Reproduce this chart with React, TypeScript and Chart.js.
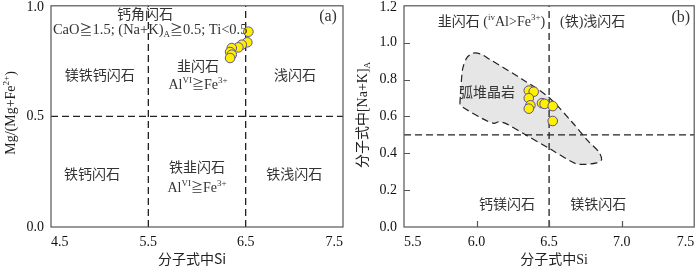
import React, { useEffect, useRef } from "react";
import { Chart, registerables } from "chart.js";

Chart.register(...registerables);

const SERIF = '"Liberation Serif", "Times New Roman", serif';
const CJK = '"Noto Sans CJK SC", "Noto Sans CJK JP", sans-serif';

// ---------- Panel (a) data ----------
const aSi = [6.528, 6.517, 6.46, 6.425, 6.357, 6.34, 6.357, 6.34];
const aMgRatio = [0.883, 0.835, 0.824, 0.812, 0.809, 0.791, 0.779, 0.764];
const aXTicks = [4.5, 5.5, 6.5, 7.5];
const aYTicks = [0, 0.5, 1.0];
const aVLines = [5.5, 6.5];
const aHLines = [0.5];

// ---------- Panel (b) data ----------
const bSi = [6.36, 6.394, 6.36, 6.371, 6.36, 6.451, 6.469, 6.525, 6.525];
const bNaK = [0.74, 0.734, 0.699, 0.66, 0.642, 0.672, 0.668, 0.656, 0.575];
const bFieldSi = [5.885, 5.892, 5.905, 5.935, 5.975, 6.03, 6.086, 6.314, 6.497, 6.656, 6.771, 6.839, 6.862, 6.827, 6.748, 6.679, 6.497, 6.337, 6.2, 6.154, 6.12, 6.04, 5.903];
const bFieldNaK = [0.668, 0.75, 0.86, 0.92, 0.943, 0.938, 0.912, 0.802, 0.704, 0.571, 0.464, 0.411, 0.366, 0.348, 0.34, 0.345, 0.428, 0.5, 0.562, 0.571, 0.562, 0.588, 0.651];
const bXTicks = [5.5, 6.0, 6.5, 7.0, 7.5];
const bYTicks = [0, 0.2, 0.4, 0.6, 0.8, 1.0, 1.2];
const bVLines = [6.5];
const bHLines = [0.5];

type Seg = { t: string; cjk?: boolean; size?: number; dy?: number };
type Note = { x: number; y: number; segs: Seg[]; left?: boolean };

const SUP = { size: 9, dy: -6 };
const SUB = { size: 9, dy: 3 };
const GEQ: Seg = { t: "≧", cjk: true, size: 12 };
const GEQ2: Seg = { t: "≧", cjk: true, size: 13 };
const alFe: Seg[] = [{ t: "Al" }, { t: "VI", ...SUP }, GEQ, { t: "Fe" }, { t: "3+", ...SUP }];

const aNotes: Note[] = [
  { x: 5.466, y: 0.964, segs: [{ t: "钙角闪石", cjk: true }] },
  {
    x: 4.52,
    y: 0.897,
    left: true,
    segs: [{ t: "CaO", size: 14.5 }, GEQ2, { t: "1.5; (Na+K)", size: 14.5 }, { t: "A", ...SUB }, GEQ2, { t: "0.5; Ti<0.5", size: 14.5 }],
  },
  { x: 7.346, y: 0.955, segs: [{ t: "(a)", size: 16 }] },
  { x: 5.0, y: 0.686, segs: [{ t: "镁铁钙闪石", cjk: true }] },
  { x: 6.01, y: 0.728, segs: [{ t: "韭闪石", cjk: true }] },
  { x: 6.01, y: 0.646, segs: alFe },
  { x: 7.007, y: 0.686, segs: [{ t: "浅闪石", cjk: true }] },
  { x: 4.92, y: 0.238, segs: [{ t: "铁钙闪石", cjk: true }] },
  { x: 6.0, y: 0.271, segs: [{ t: "铁韭闪石", cjk: true }] },
  { x: 6.0, y: 0.179, segs: alFe },
  { x: 7.0, y: 0.238, segs: [{ t: "铁浅闪石", cjk: true }] },
];

const bNotes: Note[] = [
  { x: 6.103, y: 1.12, segs: [{ t: "韭闪石", cjk: true }, { t: " (" }, { t: "iv", ...SUP }, { t: "Al>Fe" }, { t: "3+", ...SUP }, { t: ")" }] },
  { x: 6.8, y: 1.12, segs: [{ t: "(" }, { t: "铁", cjk: true }, { t: ")" }, { t: "浅闪石", cjk: true }] },
  { x: 7.408, y: 1.141, segs: [{ t: "(b)", size: 16 }] },
  { x: 6.072, y: 0.731, segs: [{ t: "弧堆晶岩", cjk: true }] },
  { x: 6.209, y: 0.123, segs: [{ t: "钙镁闪石", cjk: true }] },
  { x: 6.839, y: 0.123, segs: [{ t: "镁铁闪石", cjk: true }] },
];

function segFont(g: Seg) {
  return `${g.size ?? 14}px ${g.cjk ? CJK : SERIF}`;
}

function drawRich(ctx: CanvasRenderingContext2D, segs: Seg[], cx: number, cy: number, color: string, left = false) {
  let w = 0;
  for (const g of segs) {
    ctx.font = segFont(g);
    w += ctx.measureText(g.t).width;
  }
  let x = left ? cx : cx - w / 2;
  ctx.textAlign = "left";
  ctx.textBaseline = "alphabetic";
  ctx.fillStyle = color;
  for (const g of segs) {
    ctx.font = segFont(g);
    ctx.fillText(g.t, x, cy + 5 + (g.dy ?? 0));
    x += ctx.measureText(g.t).width;
  }
}

type PanelCfg = {
  xs: number[];
  ys: number[];
  xTicks: number[];
  yTicks: number[];
  vLines: number[];
  hLines: number[];
  field?: { xs: number[]; ys: number[] };
  notes: Note[];
  innerTicks: boolean;
  yAxisWidth: number;
  padRight: number;
  padTop: number;
  xTitle: Seg[];
  xTitleX: number;
  yTitle: Seg[];
  yTitleX: number;
  yTitleY: number;
};

function makeDeco(cfg: PanelCfg) {
  return {
    id: "deco",
    afterDatasetsDraw(chart: any) {
      const ctx: CanvasRenderingContext2D = chart.ctx;
      const a = chart.chartArea;
      const xs = chart.scales.x;
      const ys = chart.scales.y;
      ctx.save();
      ctx.setLineDash([]);
      ctx.strokeStyle = "#555";
      ctx.lineWidth = 1.2;
      ctx.strokeRect(a.left, a.top, a.right - a.left, a.bottom - a.top);
      if (cfg.innerTicks) {
        ctx.beginPath();
        for (const v of cfg.xTicks.slice(1, -1)) {
          const px = Math.round(xs.getPixelForValue(v)) + 0.5;
          ctx.moveTo(px, a.bottom);
          ctx.lineTo(px, a.bottom - 6);
        }
        for (const v of cfg.yTicks.slice(1, -1)) {
          const py = Math.round(ys.getPixelForValue(v)) + 0.5;
          ctx.moveTo(a.left, py);
          ctx.lineTo(a.left + 6, py);
        }
        ctx.stroke();
      }
      // top y tick label kept inside the canvas
      const top = cfg.yTicks[cfg.yTicks.length - 1];
      ctx.font = `14px ${SERIF}`;
      ctx.fillStyle = "#111";
      ctx.textAlign = "right";
      ctx.textBaseline = "middle";
      ctx.fillText(top.toFixed(1), a.left - 7, Math.max(ys.getPixelForValue(top), 7));
      for (const n of cfg.notes) {
        drawRich(ctx, n.segs, xs.getPixelForValue(n.x), ys.getPixelForValue(n.y), "#333", !!n.left);
      }
      drawRich(ctx, cfg.xTitle, cfg.xTitleX, 259, "#222");
      ctx.translate(cfg.yTitleX, cfg.yTitleY);
      ctx.rotate(-Math.PI / 2);
      drawRich(ctx, cfg.yTitle, 0, 0, "#222");
      ctx.restore();
    },
  };
}

function Panel({ cfg }: { cfg: PanelCfg }) {
  const ref = useRef<HTMLCanvasElement>(null);
  useEffect(() => {
    if (!ref.current) return;
    const xMin = cfg.xTicks[0];
    const xMax = cfg.xTicks[cfg.xTicks.length - 1];
    const yMin = cfg.yTicks[0];
    const yMax = cfg.yTicks[cfg.yTicks.length - 1];
    const dash = { showLine: true, pointRadius: 0, borderColor: "#222", borderWidth: 1.3, borderDash: [7, 4], fill: false };
    const datasets: any[] = [
      {
        data: cfg.xs.map((x, i) => ({ x, y: cfg.ys[i] })),
        showLine: false,
        pointRadius: 4.8,
        pointBackgroundColor: "#FFF000",
        pointBorderColor: "#5A4FA0",
        pointBorderWidth: 1,
      },
      ...cfg.vLines.map((v) => ({ ...dash, data: [{ x: v, y: yMin }, { x: v, y: yMax }] })),
      ...cfg.hLines.map((v) => ({ ...dash, data: [{ x: xMin, y: v }, { x: xMax, y: v }] })),
    ];
    if (cfg.field) {
      const pts = cfg.field.xs.map((x, i) => ({ x, y: cfg.field!.ys[i] }));
      pts.push(pts[0]);
      datasets.push({
        data: pts,
        showLine: true,
        pointRadius: 0,
        borderColor: "#222",
        borderWidth: 1.2,
        borderDash: [7, 4],
        backgroundColor: "#e6e6e6",
        fill: "shape",
        tension: 0.3,
      });
    }
    const tickFont = { family: SERIF, size: 14 };
    const chart = new Chart(ref.current, {
      type: "scatter",
      data: { datasets },
      plugins: [makeDeco(cfg) as any],
      options: {
        animation: false,
        responsive: false,
        events: [],
        layout: { padding: { left: 0, right: cfg.padRight, top: cfg.padTop, bottom: 0 } },
        plugins: { legend: { display: false }, tooltip: { enabled: false } },
        scales: {
          x: {
            type: "linear",
            min: xMin,
            max: xMax,
            afterBuildTicks: (sc: any) => {
              sc.ticks = cfg.xTicks.map((v) => ({ value: v }));
            },
            afterFit: (sc: any) => {
              sc.height = 41;
              sc.paddingLeft = 0;
              sc.paddingRight = 0;
            },
            grid: { display: false, drawTicks: false },
            border: { display: false },
            ticks: {
              font: tickFont,
              color: "#111",
              padding: 7,
              align: "inner",
              maxRotation: 0,
              autoSkip: false,
              callback: (v: any) => Number(v).toFixed(1),
            },
          },
          y: {
            type: "linear",
            min: yMin,
            max: yMax,
            afterBuildTicks: (sc: any) => {
              sc.ticks = cfg.yTicks.map((v) => ({ value: v }));
            },
            afterFit: (sc: any) => {
              sc.width = cfg.yAxisWidth;
              sc.paddingTop = 0;
              sc.paddingBottom = 0;
            },
            grid: { display: false, drawTicks: false },
            border: { display: false },
            ticks: {
              font: tickFont,
              color: "#111",
              padding: 7,
              autoSkip: false,
              callback: (v: any) => (Number(v) === yMax ? "" : Number(v).toFixed(1)),
            },
          },
        },
      } as any,
    });
    return () => chart.destroy();
  }, []);
  return <canvas ref={ref} width={350} height={268} style={{ display: "block", width: 350, height: 268 }} />;
}

const panelA: PanelCfg = {
  xs: aSi,
  ys: aMgRatio,
  xTicks: aXTicks,
  yTicks: aYTicks,
  vLines: aVLines,
  hLines: aHLines,
  notes: aNotes,
  innerTicks: false,
  yAxisWidth: 51,
  padRight: 7,
  padTop: 4,
  xTitle: [{ t: "分子式中Si", cjk: true }],
  xTitleX: 192,
  yTitle: [{ t: "Mg/(Mg+Fe" }, { t: "2+", ...SUP }, { t: ")" }],
  yTitleX: 10,
  yTitleY: 113,
};

const panelB: PanelCfg = {
  xs: bSi,
  ys: bNaK,
  xTicks: bXTicks,
  yTicks: bYTicks,
  vLines: bVLines,
  hLines: bHLines,
  field: { xs: bFieldSi, ys: bFieldNaK },
  notes: bNotes,
  innerTicks: true,
  yAxisWidth: 54,
  padRight: 3,
  padTop: 2,
  xTitle: [{ t: "分子式中", cjk: true }, { t: "Si" }],
  xTitleX: 204,
  yTitle: [{ t: "分子式中", cjk: true }, { t: "[Na+K]" }, { t: "A", ...SUB }],
  yTitleX: 12,
  yTitleY: 115,
};

export default function App() {
  return (
    <div style={{ position: "absolute", left: 0, top: 0, width: 700, height: 268, display: "flex", background: "#fff" }}>
      <Panel cfg={panelA} />
      <Panel cfg={panelB} />
    </div>
  );
}
